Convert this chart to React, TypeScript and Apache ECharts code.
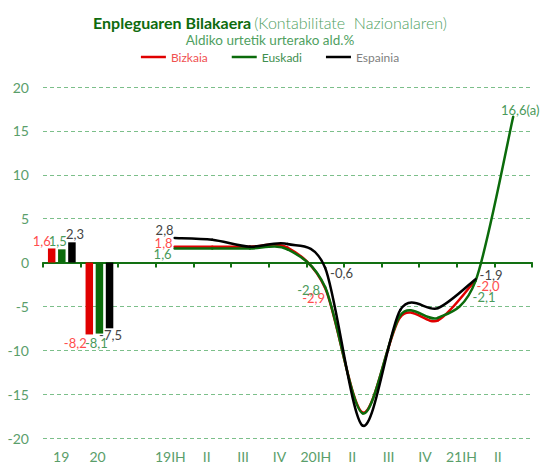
import React, { useEffect, useRef } from "react";
import * as echarts from "echarts";

const categories = ["19", "20", "", "19IH", "II", "III", "IV", "20IH", "II", "III", "IV", "21IH", "II"];
const barBizkaia = [1.6, -8.2];
const barEuskadi = [1.5, -8.1];
const barEspainia = [2.3, -7.5];
const lineStart = 3;
const lineBizkaia = [1.8, 1.8, 1.8, 1.7, -2.9, -17.1, -6.2, -6.6, -2.0];
const lineEuskadi = [1.6, 1.6, 1.6, 1.5, -2.8, -17.2, -6.0, -6.3, -2.1, 16.6];
const lineEspainia = [2.8, 2.6, 1.8, 2.1, -0.6, -18.6, -5.4, -5.2, -1.9];

const RED = "#e00000";
const GREEN = "#0b6b0b";
const BLACK = "#000000";
const RED_LBL = "#ff4d4d";
const GREEN_LBL = "#4a9a5a";
const BLACK_LBL = "#444444";
const AXIS_LBL = "#5a9e6a";
const FONT = "Lato";

const fmt = (v: number) => v.toFixed(1).replace(".", ",");

type BarLbl = { position: string; offset: number[] };
type PtLbl = { dx: number; dy: number; align: string; suffix?: string };

function barData(values: number[], cfg: Record<number, BarLbl>, color: string) {
  return categories.map((_, i) => {
    if (i >= values.length) return "-";
    const c = cfg[i];
    return {
      value: values[i],
      label: {
        show: true,
        position: c.position,
        offset: c.offset,
        color,
        fontSize: 13,
        fontFamily: FONT,
        formatter: fmt(values[i]),
      },
    };
  });
}

function smoothLine(name: string, values: number[], color: string, labelColor: string, labels: Record<number, PtLbl>) {
  const n = values.length;
  return {
    type: "custom",
    name,
    xAxisIndex: 0,
    yAxisIndex: 0,
    itemStyle: { color },
    clip: false,
    data: values.map((v, k) => [lineStart + k, v]),
    renderItem: (params: any, api: any) => {
      const k = params.dataIndex;
      const pt = (j: number) => {
        const jj = Math.max(0, Math.min(n - 1, j));
        return api.coord([lineStart + jj, values[jj]]);
      };
      const children: any[] = [];
      if (k < n - 1) {
        const p0 = pt(k - 1);
        const p1 = pt(k);
        const p2 = pt(k + 1);
        const p3 = pt(k + 2);
        const t = 0.15;
        children.push({
          type: "bezierCurve",
          shape: {
            x1: p1[0],
            y1: p1[1],
            x2: p2[0],
            y2: p2[1],
            cpx1: p1[0] + (p2[0] - p0[0]) * t,
            cpy1: p1[1] + (p2[1] - p0[1]) * t,
            cpx2: p2[0] - (p3[0] - p1[0]) * t,
            cpy2: p2[1] - (p3[1] - p1[1]) * t,
          },
          style: { stroke: color, lineWidth: 2.5, fill: "none", lineCap: "round" },
        });
      }
      const lb = labels[k];
      if (lb) {
        const p = pt(k);
        children.push({
          type: "text",
          x: p[0] + lb.dx,
          y: p[1] + lb.dy,
          style: {
            text: fmt(values[k]) + (lb.suffix || ""),
            fill: labelColor,
            font: `13px ${FONT}`,
            align: lb.align,
            verticalAlign: "middle",
          },
        });
      }
      return { type: "group", children };
    },
  };
}

export default function App() {
  const ref = useRef<HTMLDivElement>(null);
  useEffect(() => {
    if (!ref.current) return;
    const chart = echarts.init(ref.current, undefined, { renderer: "svg" });
    const barCommon = {
      type: "bar",
      xAxisIndex: 0,
      yAxisIndex: 0,
      barWidth: 7.5,
      barGap: "35%",
    };
    chart.setOption({
      animation: false,
      textStyle: { fontFamily: FONT },
      title: {
        text: "{a|Enpleguaren Bilakaera}{b|(Kontabilitate  Nazionalaren)}",
        left: "center",
        top: 9,
        textStyle: {
          rich: {
            a: { fontSize: 16, fontWeight: "bold", color: "#0e6b0e", fontFamily: FONT },
            b: { fontSize: 16, fontWeight: 300, color: "#4f9f5f", fontFamily: FONT, padding: [0, 0, 0, 3] },
          },
        },
        subtext: "Aldiko urtetik urterako ald.%",
        subtextStyle: { fontSize: 13.5, color: "#4f9f5f", fontFamily: FONT },
        itemGap: 3,
      },
      legend: {
        top: 46,
        left: "center",
        itemWidth: 25,
        itemHeight: 2.5,
        itemGap: 24,
        textStyle: { fontSize: 12, fontFamily: FONT },
        data: [
          { name: "Bizkaia", icon: "rect", itemStyle: { color: RED }, textStyle: { color: "#f05050" } },
          { name: "Euskadi", icon: "rect", itemStyle: { color: GREEN }, textStyle: { color: "#3f8f4f" } },
          { name: "Espainia", icon: "rect", itemStyle: { color: BLACK }, textStyle: { color: "#808080" } },
        ],
      },
      grid: [
        { left: 43, right: 8, top: 87, bottom: 26 },
        { left: 43, width: 473, top: 87, bottom: 26 },
      ],
      xAxis: [
        {
          type: "category",
          gridIndex: 0,
          data: categories,
          axisLine: { show: true, onZero: true, lineStyle: { color: "#127012", width: 2 } },
          axisTick: { show: true, length: 5, lineStyle: { color: "#127012", width: 2 } },
          axisLabel: { show: false },
          splitLine: { show: false },
        },
        {
          type: "category",
          gridIndex: 1,
          data: categories,
          axisLine: { show: false, onZero: false },
          axisTick: { show: false },
          axisLabel: { show: true, color: AXIS_LBL, fontSize: 14, fontFamily: FONT, margin: 11, interval: 0 },
          splitLine: { show: false },
        },
      ],
      yAxis: [
        {
          type: "value",
          gridIndex: 0,
          min: -20,
          max: 20,
          interval: 5,
          axisLine: { show: false },
          axisTick: { show: false },
          axisLabel: { color: AXIS_LBL, fontSize: 14, fontFamily: FONT, margin: 14 },
          splitLine: { show: true, lineStyle: { color: "#7cbf8a", type: [4, 3], width: 1 } },
        },
        {
          type: "value",
          gridIndex: 1,
          min: -20,
          max: 20,
          show: false,
          splitLine: { show: false },
        },
      ],
      series: [
        {
          ...barCommon,
          name: "Bizkaia",
          itemStyle: { color: RED },
          data: barData(barBizkaia, {
            0: { position: "top", offset: [-10, 4] },
            1: { position: "bottom", offset: [-14, -3] },
          }, RED_LBL),
        },
        {
          ...barCommon,
          name: "Euskadi",
          itemStyle: { color: GREEN },
          data: barData(barEuskadi, {
            0: { position: "top", offset: [-4, 3] },
            1: { position: "bottom", offset: [-3, -2] },
          }, GREEN_LBL),
        },
        {
          ...barCommon,
          name: "Espainia",
          itemStyle: { color: BLACK },
          data: barData(barEspainia, {
            0: { position: "top", offset: [3, 3] },
            1: { position: "bottom", offset: [1, -5] },
          }, BLACK_LBL),
        },
        smoothLine("Bizkaia", lineBizkaia, RED, RED_LBL, {
          0: { dx: -2, dy: -4, align: "right" },
          4: { dx: 0, dy: 10, align: "right" },
          8: { dx: 1, dy: 6, align: "left" },
        }),
        smoothLine("Euskadi", lineEuskadi, GREEN, GREEN_LBL, {
          0: { dx: -3, dy: 6, align: "right" },
          4: { dx: -5, dy: 3, align: "right" },
          8: { dx: -3, dy: 16, align: "left" },
          9: { dx: 7, dy: -7, align: "center", suffix: "(a)" },
        }),
        smoothLine("Espainia", lineEspainia, BLACK, BLACK_LBL, {
          0: { dx: -1, dy: -8, align: "right" },
          4: { dx: 5, dy: 5, align: "left" },
          8: { dx: 4, dy: -4, align: "left" },
        }),
      ],
    });
    return () => chart.dispose();
  }, []);
  return <div ref={ref} style={{ width: 540, height: 464, position: "absolute", left: 0, top: 0 }} />;
}
